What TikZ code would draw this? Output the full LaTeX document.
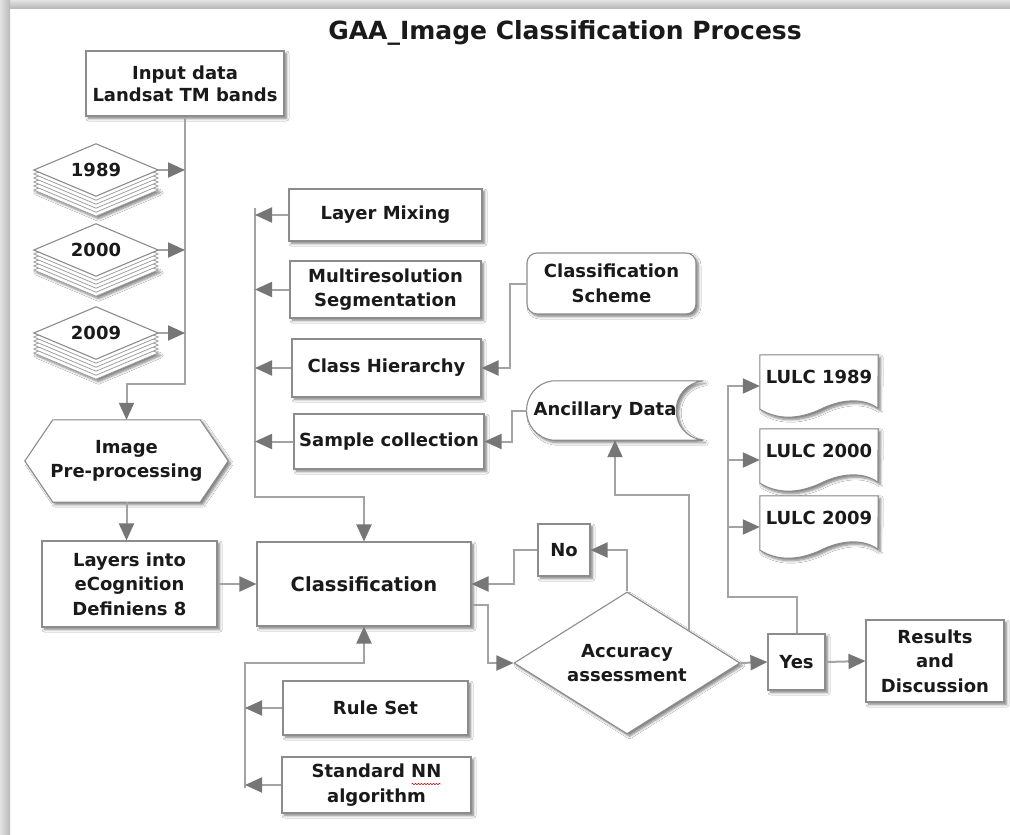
\documentclass[tikz,border=0pt]{standalone}
\usepackage{fontspec}
\setmainfont{DejaVu Sans}
\usetikzlibrary{arrows.meta,calc,shapes.geometric,shadows.blur,decorations.pathmorphing,backgrounds}
\definecolor{boxgray}{HTML}{8C8C8C}
\definecolor{linegray}{HTML}{A3A3A3}
\definecolor{tipgray}{HTML}{767676}
\definecolor{ink}{HTML}{1A1A1A}

\begin{document}
\begin{tikzpicture}[x=1pt,y=-1pt,
  lbl/.style={font=\bfseries\fontsize{18}{24.5}\selectfont, text=ink, align=center},
  soft/.style={blur shadow={shadow xshift=2.5pt, shadow yshift=-2.5pt,
      shadow blur radius=2.5pt, shadow blur steps=6, shadow opacity=50}},
  box/.style={lbl, rectangle, draw=boxgray, line width=1.1pt, fill=white, soft, inner sep=0pt},
  ghost/.style={lbl, rectangle, inner sep=0pt},
  outline/.style={draw=boxgray, line width=1.1pt, fill=white, soft},
  sheet/.style={draw=gray!75, line width=0.8pt, fill=white},
  conn/.style={draw=linegray, line width=2pt},
  arr/.style={conn, -{Triangle[length=17pt,width=15pt,color=tipgray]}},
]
\useasboundingbox (0,0) rectangle (1010,835);

% ---- title and input ----
\node[lbl, font=\bfseries\fontsize{25}{29}\selectfont] (title) at (565,33)
  {GAA\_Image Classification Process};
\node[box, minimum width=198pt, minimum height=65pt,
  font=\bfseries\fontsize{18}{22}\selectfont] (input) at (185,83.5)
  {Input data\\Landsat TM bands};

% ---- year image stacks (labels) ----
\node[ghost, minimum width=124pt, minimum height=52pt] (d1989) at (96,170) {1989};
\node[ghost, minimum width=124pt, minimum height=52pt] (d2000) at (96,250) {2000};
\node[ghost, minimum width=124pt, minimum height=52pt] (d2009) at (96,333) {2009};

% ---- preprocessing chain ----
\node[ghost, minimum width=203pt, minimum height=82pt] (pre) at (126.5,461)
  {Image\\Pre-processing};
\node[box, minimum width=175pt, minimum height=86pt] (layers) at (129.5,584)
  {Layers into\\eCognition\\Definiens 8};
\node[box, minimum width=214pt, minimum height=84pt,
  font=\bfseries\fontsize{19.5}{24}\selectfont] (class) at (364,584) {Classification};

% ---- inputs to classification ----
\node[box, minimum width=193pt, minimum height=52pt] (mix) at (385.5,215) {Layer Mixing};
\node[box, minimum width=191pt, minimum height=57pt] (seg) at (385.5,289.5)
  {Multiresolution\\Segmentation};
\node[box, minimum width=189pt, minimum height=58pt] (hier) at (386.5,368) {Class Hierarchy};
\node[box, minimum width=190pt, minimum height=55pt] (sample) at (389,441.5) {Sample collection};
\node[box, rounded corners=10pt, minimum width=169pt, minimum height=61pt] (scheme)
  at (611.5,283.5) {Classification\\Scheme};
\node[ghost, minimum width=176pt, minimum height=59pt] (anc) at (615,410.5)
  {Ancillary Data\hspace*{20pt}};
\node[box, minimum width=185pt, minimum height=54pt] (rule) at (375.5,708) {Rule Set};
\node[box, minimum width=189pt, minimum height=56pt] (nn) at (376.5,785)
  {Standard NN\\algorithm};

% ---- assessment and outputs ----
\node[lbl, diamond, aspect=1.6, draw=boxgray, line width=1.1pt, fill=white, soft,
  inner sep=0pt, minimum width=226pt, minimum height=142pt] (acc) at (627,663)
  {Accuracy\\assessment};
\node[box, minimum width=52pt, minimum height=52pt] (no) at (564,550) {No};
\node[box, minimum width=57pt, minimum height=56pt] (yes) at (796.5,662) {Yes};
\node[box, minimum width=138pt, minimum height=82pt] (res) at (935,661)
  {Results\\and\\Discussion};
\node[ghost, minimum width=118pt, minimum height=62pt, text height=13pt, text depth=19pt]
  (l89) at (819,386) {LULC 1989};
\node[ghost, minimum width=118pt, minimum height=62pt, text height=13pt, text depth=19pt]
  (l00) at (819,460) {LULC 2000};
\node[ghost, minimum width=118pt, minimum height=62pt, text height=13pt, text depth=19pt]
  (l09) at (819,527) {LULC 2009};

% spell-check squiggle under "NN"
\draw[red!80!black, line width=0.5pt, decorate,
  decoration={snake, amplitude=0.7pt, segment length=3pt}]
  ($(nn.center)+(35,-1)$) -- ($(nn.center)+(64,-1)$);

% ---- connectors ----
\coordinate (bustop) at (255,208);
\coordinate (busbot) at (255,497);
\coordinate (bb1) at (245,663);
\coordinate (bb2) at (245,788);
\coordinate (lbus) at (728,597);
\coordinate (accur) at ($(acc.north)!0.55!(acc.east)$);

\draw[arr] (input.south) -- ++(0,267) -| (pre.north);
\foreach \n in {d1989,d2000,d2009}
  \draw[arr] (\n.east) -- (\n.east -| input.south);
\draw[arr] (pre.south) -- (pre.south |- layers.north);
\draw[arr] (layers.east) -- (class.west);

\draw[arr] (bustop) -- (busbot) -| (class.north);
\foreach \n in {mix,seg,hier,sample}
  \draw[arr] (\n.west) -- (\n.west -| bustop);
\draw[arr] (scheme.west) -- ++(-16,0) |- (hier.east);
\draw[arr] (anc.west) -- ++(-15,0) |- (sample.east);

\draw[arr] (bb2) -- (bb1) -| (class.south);
\draw[arr] (rule.west) -- (rule.west -| bb1);
\draw[arr] (nn.west) -- (nn.west -| bb1);

\draw[arr] ($(class.east)+(0,21)$) -- ++(16,0) |- (acc.west);
\draw[arr] (acc.north) |- (no.east);
\draw[arr] (no.west) -- ++(-23,0) |- (class.east);
\draw[arr] (accur) |- ($(anc.south)+(0,55)$) -- (anc.south);
\draw[arr] (acc.east) -- (yes.west);
\draw[arr] (yes.east) -- (res.west);
\draw[arr] (yes.north) |- (lbus) |- (l89.west);
\draw[arr] (lbus |- l00.west) -- (l00.west);
\draw[arr] (lbus |- l09.west) -- (l09.west);

% ---- page, frame and drawn outlines behind the labels ----
\begin{pgfonlayer}{background}
  \fill[white] (0,0) rectangle (1010,835);
  \shade[top color=gray!22, bottom color=gray!55] (0,0) rectangle (1010,8);
  \shade[left color=gray!22, right color=gray!55] (0,0) rectangle (10,835);

  % stacked image layers
  \foreach \n in {d1989,d2000,d2009}{
    \path[sheet, soft] ($(\n.west)+(0,20)$) -- ($(\n.north)+(0,20)$)
      -- ($(\n.east)+(0,20)$) -- ($(\n.south)+(0,20)$) -- cycle;
    \foreach \k in {4,3,2,1}
      \path[sheet] ($(\n.west)+(0,{4*\k})$) -- ($(\n.north)+(0,{4*\k})$)
        -- ($(\n.east)+(0,{4*\k})$) -- ($(\n.south)+(0,{4*\k})$) -- cycle;
    \path[draw=boxgray, line width=1.1pt, fill=white] (\n.west) -- (\n.north) -- (\n.east) -- (\n.south) -- cycle;
  }

  % hexagonal preparation symbol
  \path[outline] ($(pre.north west)+(28,0)$) -- ($(pre.north east)+(-28,0)$)
    -- (pre.east) -- ($(pre.south east)+(-28,0)$) -- ($(pre.south west)+(28,0)$)
    -- (pre.west) -- cycle;

  % stored data symbol
  \path[outline] ($(anc.north west)+(26,0)$) -- (anc.north east)
    .. controls ($(anc.north east)+(-36,5)$) and ($(anc.south east)+(-36,-5)$) .. (anc.south east)
    -- ($(anc.south west)+(26,0)$)
    .. controls ($(anc.south west)+(-9,-5)$) and ($(anc.north west)+(-9,5)$) .. cycle;

  % document symbols
  \foreach \n in {l89,l00,l09}
    \path[outline] (\n.north west) -- (\n.north east) -- ($(\n.south west)+(118,-9)$)
      .. controls ($(\n.south west)+(103,-20)$) and ($(\n.south west)+(80,-18)$) .. ($(\n.south west)+(59,-7)$)
      .. controls ($(\n.south west)+(40,1)$) and ($(\n.south west)+(20,4)$) .. ($(\n.south west)+(0,-8)$)
      -- cycle;
\end{pgfonlayer}
\end{tikzpicture}
\end{document}
